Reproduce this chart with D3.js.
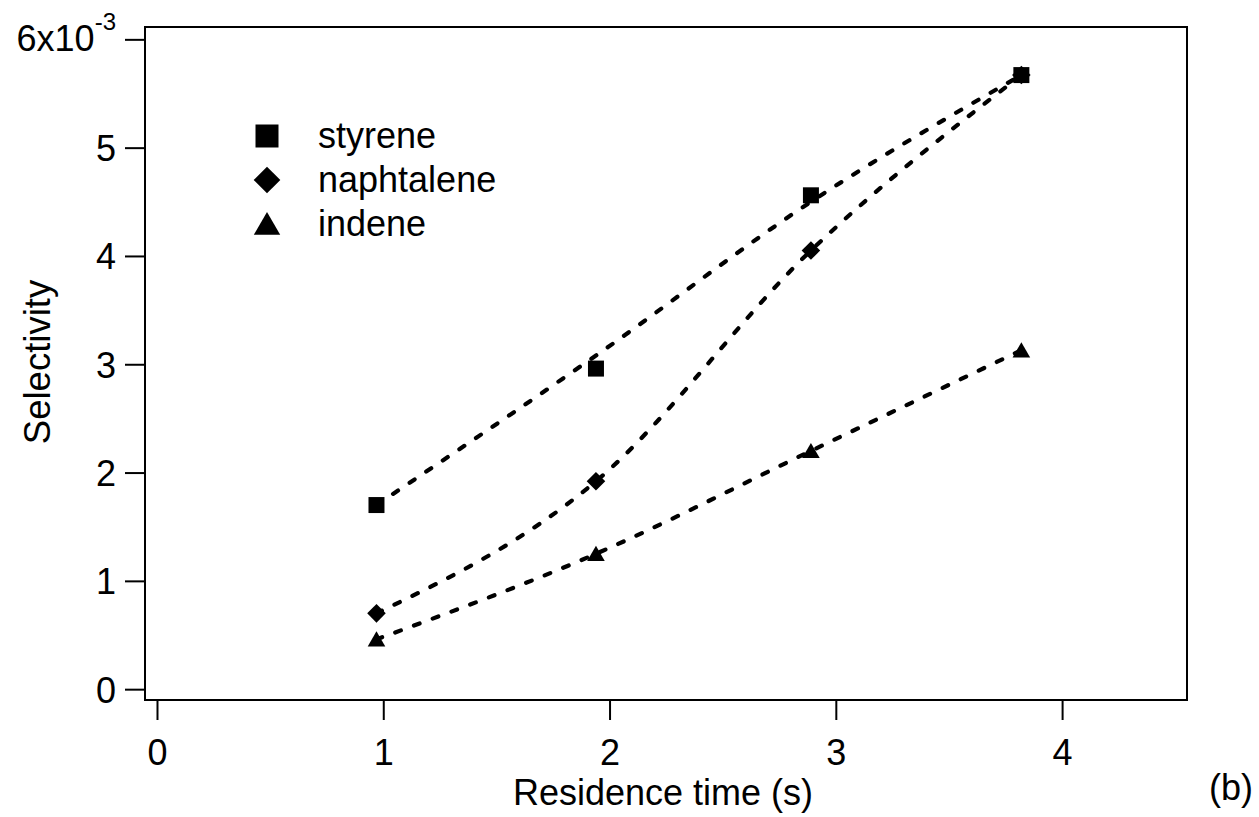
<!DOCTYPE html>
<html><head><meta charset="utf-8">
<script src="https://cdn.jsdelivr.net/npm/d3@7"></script>
<style>
body{margin:0;background:#fff;}
text{font-family:"Liberation Sans",Arial,sans-serif;fill:#000;}
</style></head>
<body><svg id="c" width="1259" height="817"></svg>
<script>
const times = [0.97, 1.94, 2.89, 3.82];
const styrene = [1.70, 2.96, 4.56, 5.67];
const naphtalene = [0.70, 1.92, 4.05, 5.67];
const indene = [0.46, 1.25, 2.20, 3.13];
const fitStyrene = [1.70, 3.08, 4.50, 5.67];
const fitNaphtalene = [0.70, 1.92, 4.05, 5.67];
const fitIndene = [0.46, 1.25, 2.20, 3.13];
const seriesNames = ["styrene", "naphtalene", "indene"];
const xTicks = [0, 1, 2, 3, 4];
const yTicks = [0, 1, 2, 3, 4, 5, 6];

const svg = d3.select("#c");
const L = 145, R = 1187, T = 27, B = 700;
const x = d3.scaleLinear().domain([-0.053, 4.552]).range([L, R]);
const y = d3.scaleLinear().domain([-0.1, 6.114]).range([B, T]);

// frame
svg.append("rect").attr("x", L).attr("y", T).attr("width", R - L).attr("height", B - T)
  .attr("fill", "none").attr("stroke", "#000").attr("stroke-width", 2);

const fs = 36;
const xAxis = svg.append("g").attr("transform", `translate(0,${B})`)
  .call(d3.axisBottom(x).tickValues(xTicks).tickSize(20).tickPadding(10).tickFormat(d3.format("d")));
const yAxis = svg.append("g").attr("transform", `translate(${L},0)`)
  .call(d3.axisLeft(y).tickValues(yTicks).tickSize(20).tickPadding(10)
    .tickFormat(d => d === 6 ? "" : String(d)));
[xAxis, yAxis].forEach(a => {
  a.select(".domain").remove();
  a.selectAll(".tick line").attr("stroke", "#000").attr("stroke-width", 2);
  a.selectAll(".tick text").style("font-size", fs + "px").attr("fill", "#000")
    .style("font-family", '"Liberation Sans",Arial,sans-serif');
});
xAxis.selectAll(".tick text").attr("dy", null).attr("y", 65);
yAxis.selectAll(".tick text").attr("dy", "0.36em").attr("x", -29);

// 6x10^-3 label
const t6 = svg.append("text").attr("x", 116).attr("y", 51).attr("text-anchor", "end")
  .style("font-size", fs + "px");
t6.append("tspan").text("6x10");
t6.append("tspan").attr("dy", -21).style("font-size", "24px").text("-3");

// axis titles
svg.append("text").attr("x", 663).attr("y", 805).attr("text-anchor", "middle")
  .style("font-size", "36px").text("Residence time (s)");
svg.append("text").attr("transform", `translate(50,362) rotate(-90)`).attr("text-anchor", "middle")
  .style("font-size", "36.5px").text("Selectivity");
svg.append("text").attr("x", 1253).attr("y", 800).attr("text-anchor", "end")
  .style("font-size", "36px").text("(b)");

// lines
const line = d3.line().x(d => x(d[0])).y(d => y(d[1])).curve(d3.curveMonotoneX);
[fitStyrene, fitNaphtalene, fitIndene].forEach(f => {
  svg.append("path").datum(times.map((t, i) => [t, f[i]])).attr("d", line)
    .attr("fill", "none").attr("stroke", "#000").attr("stroke-width", 4.2)
    .attr("stroke-linecap", "round").attr("stroke-dasharray", "6,14");
});

// markers
const shapes = [
  s => d3.symbol().type(d3.symbolSquare).size(s * s)(),
  s => `M0,${-s * 0.58}L${s * 0.58},0L0,${s * 0.58}L${-s * 0.58},0Z`,
  s => `M0,${-s * 0.5}L${s * 0.55},${s * 0.45}L${-s * 0.55},${s * 0.45}Z`
];
[styrene, naphtalene, indene].forEach((vals, k) => {
  svg.append("g").selectAll("path").data(times.map((t, i) => [t, vals[i]])).join("path")
    .attr("transform", d => `translate(${x(d[0])},${y(d[1])})`)
    .attr("d", shapes[k](16)).attr("fill", "#000");
});

// legend
const legY = [136, 180, 224];
seriesNames.forEach((n, k) => {
  svg.append("path").attr("transform", `translate(267,${legY[k]})`)
    .attr("d", shapes[k](k === 2 ? 24 : 23)).attr("fill", "#000");
  svg.append("text").attr("x", 318).attr("y", legY[k] + 12).style("font-size", fs + "px").text(n);
});
</script></body></html>
